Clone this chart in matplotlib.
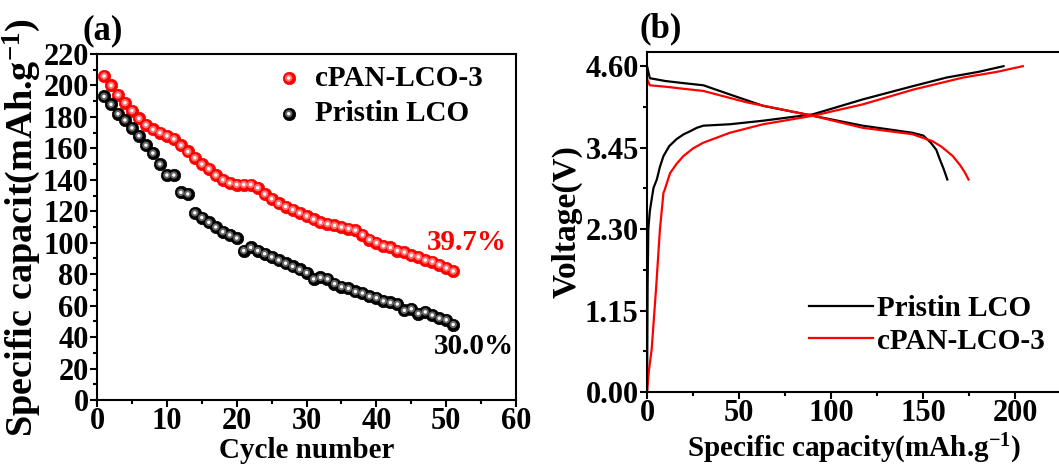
import matplotlib
matplotlib.use("Agg")
import matplotlib.pyplot as plt
from matplotlib.legend_handler import HandlerTuple
from matplotlib.ticker import MultipleLocator, AutoMinorLocator, FormatStrFormatter

plt.rcParams['font.family'] = ['Liberation Serif', 'DejaVu Serif']
plt.rcParams['font.weight'] = 'bold'
plt.rcParams['mathtext.fontset'] = 'custom'
plt.rcParams['mathtext.rm'] = 'Liberation Serif:bold'
plt.rcParams['mathtext.bf'] = 'Liberation Serif:bold'
plt.rcParams['mathtext.it'] = 'Liberation Serif:bold'
plt.rcParams['mathtext.default'] = 'bf'

# ---- (a) cycling capacity ----
cycles = list(range(1, 52))
cap_cpan = [206, 200, 194, 189, 184, 179, 175, 172, 170, 168,
            166, 162, 158, 154, 150, 147, 143, 140, 138, 137,
            137, 137, 135, 131, 128, 125, 123, 121, 119, 117,
            115, 113, 112, 111, 110, 109, 108, 105, 102, 100,
            98, 97, 95, 94, 92, 91, 89, 88, 86, 84, 82]
cap_pristine = [193, 188, 182, 178, 173, 168, 162, 157, 150, 143,
                143, 132, 131, 119, 116, 113, 110, 107, 105, 103,
                95, 97, 95, 93, 91, 89, 87, 85, 83, 81,
                77, 78, 77, 74, 72, 71, 69, 68, 66, 65,
                63, 62, 61, 57, 58, 55, 56, 54, 52, 51, 48]
retention_cpan = "39.7%"
retention_pristine = "30.0%"

# ---- (b) charge / discharge profiles ----
pr_chg_cap = [0, 0.3, 0.7, 1.5, 2.5, 3.5, 5.3, 7, 8.9, 12, 16, 20, 23.3, 27, 30.6,
              45, 63, 90, 117, 144.6, 162.7, 180, 193.5]
pr_chg_v = [0, 1.5, 2.3, 2.55, 2.72, 2.88, 3.0, 3.18, 3.33, 3.47, 3.57, 3.64, 3.68,
            3.73, 3.76, 3.78, 3.83, 3.92, 4.13, 4.32, 4.44, 4.52, 4.6]
pr_dis_cap = [0, 1.5, 10, 20, 30.6, 45, 63, 90, 117, 144, 150, 154, 157, 159, 161, 163]
pr_dis_v = [4.6, 4.43, 4.39, 4.36, 4.33, 4.2, 4.04, 3.9, 3.76, 3.66, 3.62, 3.52, 3.42,
            3.28, 3.15, 3.0]

cp_chg_cap = [0, 1, 2.5, 5, 7, 8.9, 9.5, 12.5, 16, 19.7, 25, 30.6, 45, 63, 90, 117,
              144.6, 171.7, 190, 204]
cp_chg_v = [0, 0.3, 0.6, 1.5, 2.3, 2.81, 2.85, 3.09, 3.22, 3.33, 3.44, 3.52, 3.66,
            3.78, 3.9, 4.06, 4.27, 4.44, 4.52, 4.6]
cp_dis_cap = [0, 1.5, 10, 20, 30.6, 54, 90, 117, 144, 155, 160, 166, 170, 172.5, 174.5]
cp_dis_v = [4.42, 4.33, 4.31, 4.28, 4.25, 4.09, 3.9, 3.73, 3.64, 3.54, 3.46, 3.33,
            3.2, 3.1, 3.0]

RED = '#ff0000'
FS = 21
TICK_FS = 22

fig = plt.figure(figsize=(10.59, 4.71), dpi=100)
ax1 = fig.add_axes([0.0916, 0.1507, 0.3957, 0.7347])
ax2 = fig.add_axes([0.611, 0.1677, 0.3914, 0.7219])


def spheres(ax, x, y, base, mid):
    h1 = ax.scatter(x, y, s=80, c=base, edgecolors=base, linewidths=0.5, zorder=3)
    h2 = ax.scatter(x, y, s=28, c=mid, edgecolors='none', zorder=4)
    h3 = ax.scatter(x, y, s=6, c='white', edgecolors='none', zorder=5)
    return (h1, h2, h3)


h_cp = spheres(ax1, cycles, cap_cpan, RED, '#ff7070')
h_pr = spheres(ax1, cycles, cap_pristine, '#000000', '#666666')

ax1.set_xlim(0, 60)
ax1.set_ylim(0, 220)
ax1.xaxis.set_major_locator(MultipleLocator(10))
ax1.xaxis.set_minor_locator(MultipleLocator(5))
ax1.yaxis.set_major_locator(MultipleLocator(20))
ax1.yaxis.set_minor_locator(MultipleLocator(10))
ax1.set_xlabel('Cycle number', fontsize=FS, fontweight='bold', labelpad=1)
ax1.set_ylabel('Specific capacit(mAh.g$^{-1}$)', fontsize=27.5, fontweight='bold',
               labelpad=0)
ax1.text(cycles[-1] + 2, cap_cpan[-1] + 18, retention_cpan, color=RED, fontsize=FS,
         fontweight='bold', ha='center', va='center')
ax1.text(cycles[-1] + 3, cap_pristine[-1] - 14, retention_pristine, color='black',
         fontsize=FS, fontweight='bold', ha='center', va='center')
ax1.legend([h_cp, h_pr], ['cPAN-LCO-3', 'Pristin LCO'],
           handler_map={tuple: HandlerTuple(ndivide=1)}, frameon=False,
           loc='upper left', bbox_to_anchor=(0.36, 1.045),
           handlelength=1.0, handletextpad=0.4, labelspacing=0.3,
           prop={'weight': 'bold', 'size': FS})
ax1.text(0.014, 1.02, '(a)', transform=ax1.transAxes, fontsize=25,
         fontweight='bold', ha='center', va='bottom')

ax2.plot(pr_chg_cap, pr_chg_v, color='black', lw=1.6, label='Pristin LCO')
ax2.plot(pr_dis_cap, pr_dis_v, color='black', lw=1.6)
ax2.plot(cp_chg_cap, cp_chg_v, color=RED, lw=1.6, label='cPAN-LCO-3')
ax2.plot(cp_dis_cap, cp_dis_v, color=RED, lw=1.6)
ax2.set_xlim(0, 225)
ax2.set_ylim(0, 4.8)
ax2.set_yticks([0, 1.15, 2.30, 3.45, 4.60])
ax2.yaxis.set_major_formatter(FormatStrFormatter('%.2f'))
ax2.yaxis.set_minor_locator(AutoMinorLocator(2))
ax2.xaxis.set_major_locator(MultipleLocator(50))
ax2.xaxis.set_minor_locator(MultipleLocator(25))
ax2.set_xlabel('Specific capacity(mAh.g$^{-1}$)', fontsize=FS, fontweight='bold',
               labelpad=3)
ax2.set_ylabel('Voltage(V)', fontsize=24, fontweight='bold', labelpad=2)
ax2.legend(frameon=False, loc='lower right', bbox_to_anchor=(1.024, 0.033),
           handlelength=2.2, handletextpad=0.15, labelspacing=0.2,
           prop={'weight': 'bold', 'size': FS})
ax2.text(0.034, 1.02, '(b)', transform=ax2.transAxes, fontsize=25,
         fontweight='bold', ha='center', va='bottom')

for ax in (ax1, ax2):
    for s in ax.spines.values():
        s.set_linewidth(1.5)
    ax.tick_params(which='both', direction='out', top=False, right=False,
                   labelsize=TICK_FS, width=1.5)
    ax.tick_params(which='major', length=5)
    ax.tick_params(which='minor', length=3)
    ax.tick_params(axis='x', which='major', pad=0)
    ax.tick_params(axis='y', which='major', pad=1)
    for lab in ax.get_xticklabels() + ax.get_yticklabels():
        lab.set_fontweight('bold')

fig.savefig('out.png', dpi=100)
